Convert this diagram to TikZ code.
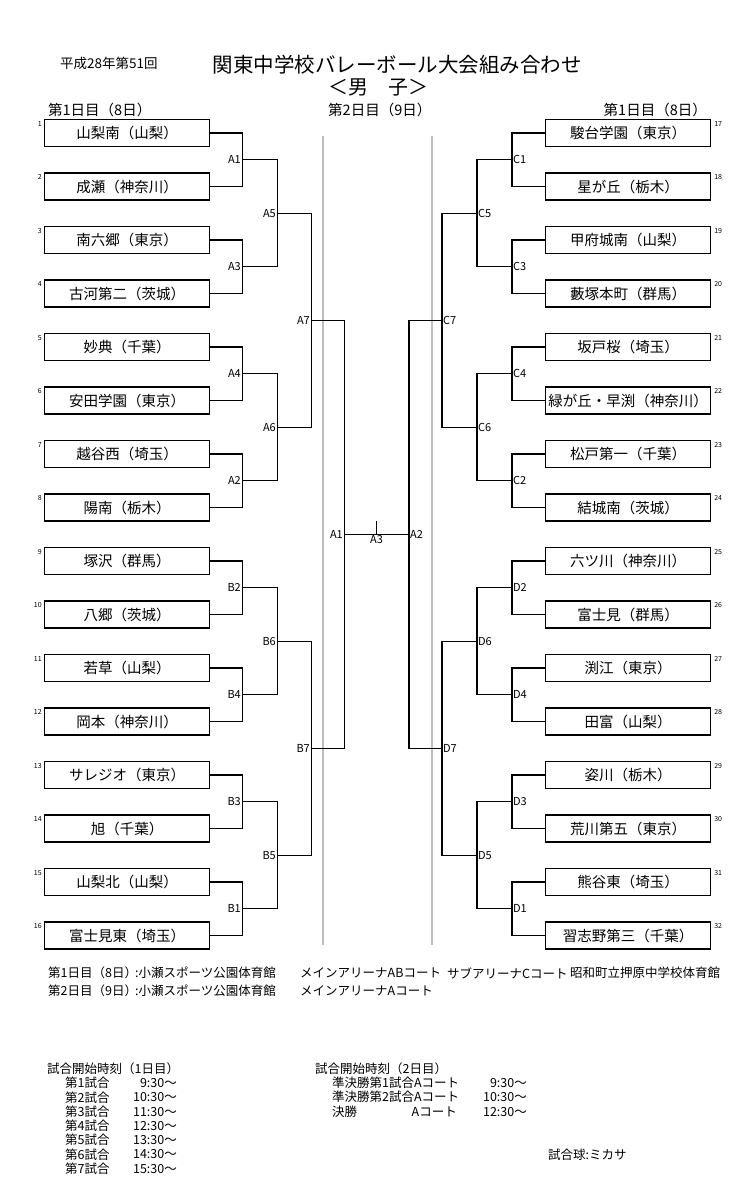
\documentclass[tikz,border=0pt]{standalone}
\usepackage{fontspec}
\setmainfont{Noto Sans CJK JP}
\usetikzlibrary{positioning,calc}

\begin{document}
\begin{tikzpicture}[x=1pt, y=-1pt, font=\fontsize{14.5}{15}\selectfont,
  team/.style={draw=black, line width=1.1pt, minimum width=165pt, minimum height=27pt, inner sep=0pt},
  num/.style={font=\fontsize{7}{7}\selectfont, inner sep=0pt},
  mlbl/.style={font=\fontsize{11}{11}\selectfont, inner sep=1pt},
  br/.style={draw=black, line width=1.1pt},
  court/.style={draw=black!25, line width=1.2pt},
  head/.style={font=\fontsize{14.5}{15}\selectfont, inner sep=0pt},
  note/.style={font=\fontsize{12.5}{13}\selectfont, anchor=west, inner sep=0pt}]
\useasboundingbox (0,0) rectangle (741,1200);
% header
\node[note, font=\fontsize{13.5}{14}\selectfont] (edition) at (60,63) {平成28年第51回};
\node[font=\fontsize{20.5}{21}\selectfont, inner sep=0pt] (title) at (397,65) {関東中学校バレーボール大会組み合わせ};
\node[font=\fontsize{20}{20}\selectfont, inner sep=0pt] (sex) at (378,87) {＜男　子＞};
\node[head, anchor=west] (day1l) at (48,110) {第1日目（8日）};
\node[head, anchor=west] (day2) at (328,110) {第2日目（9日）};
\node[head, anchor=east] (day1r) at (707,110) {第1日目（8日）};
% court lines
\draw[court] (323,136) -- (323,945);
\draw[court] (432,136) -- (432,945);
% teams
\foreach \n/\t in {1/山梨南（山梨）, 2/成瀬（神奈川）, 3/南六郷（東京）, 4/古河第二（茨城）,
  5/妙典（千葉）, 6/安田学園（東京）, 7/越谷西（埼玉）, 8/陽南（栃木）,
  9/塚沢（群馬）, 10/八郷（茨城）, 11/若草（山梨）, 12/岡本（神奈川）,
  13/サレジオ（東京）, 14/旭（千葉）, 15/山梨北（山梨）, 16/富士見東（埼玉）} {
  \node[team] (L\n) at (127,{133+(\n-1)*53.5}) {\t};
  \node[num, anchor=north east] at ([xshift=-2pt,yshift=-2pt]L\n.north west) {\n};
}
\foreach \n/\t in {17/駿台学園（東京）, 18/星が丘（栃木）, 19/甲府城南（山梨）, 20/藪塚本町（群馬）,
  21/坂戸桜（埼玉）, 22/緑が丘・早渕（神奈川）, 23/松戸第一（千葉）, 24/結城南（茨城）,
  25/六ツ川（神奈川）, 26/富士見（群馬）, 27/渕江（東京）, 28/田富（山梨）,
  29/姿川（栃木）, 30/荒川第五（東京）, 31/熊谷東（埼玉）, 32/習志野第三（千葉）} {
  \node[team] (R\n) at (628,{133+(\n-17)*53.5}) {\t};
  \node[num, anchor=north west] at ([xshift=3pt,yshift=-2pt]R\n.north east) {\n};
}
% first round
\foreach \a/\b/\m in {1/2/A1, 3/4/A3, 5/6/A4, 7/8/A2, 9/10/B2, 11/12/B4, 13/14/B3, 15/16/B1} {
  \coordinate[label={[mlbl]left:\m}] (\m) at ($(L\a.east)!.5!(L\b.east)+(32,0)$);
  \draw[br] (L\a.east) -| (\m) |- (L\b.east);
}
\foreach \a/\b/\m in {17/18/C1, 19/20/C3, 21/22/C4, 23/24/C2, 25/26/D2, 27/28/D4, 29/30/D3, 31/32/D1} {
  \coordinate[label={[mlbl]right:\m}] (\m) at ($(R\a.west)!.5!(R\b.west)+(-33,0)$);
  \draw[br] (R\a.west) -| (\m) |- (R\b.west);
}
% later rounds
\foreach \a/\b/\m/\dx in {A1/A3/A5/35, A4/A2/A6/35, B2/B4/B6/35, B3/B1/B5/35, A5/A6/A7/34, B6/B5/B7/34} {
  \coordinate[label={[mlbl]left:\m}] (\m) at ($(\a)!.5!(\b)+(\dx,0)$);
  \draw[br] (\a) -| (\m) |- (\b);
}
\foreach \a/\b/\m/\dx in {C1/C3/C5/35, C4/C2/C6/35, D2/D4/D6/35, D3/D1/D5/35, C5/C6/C7/35, D6/D5/D7/35} {
  \coordinate[label={[mlbl]right:\m}] (\m) at ($(\a)!.5!(\b)+(-\dx,0)$);
  \draw[br] (\a) -| (\m) |- (\b);
}
% semifinals and final
\coordinate[label={[mlbl]left:A1}] (fA1) at ($(A7)!.5!(B7)+(33,0)$);
\coordinate[label={[mlbl]right:A2}] (fA2) at ($(C7)!.5!(D7)+(-33,0)$);
\draw[br] (A7) -| (fA1) |- (B7);
\draw[br] (C7) -| (fA2) |- (D7);
\draw[br] (fA1) -- (fA2);
\coordinate[label={[mlbl]below:A3}] (fA3) at ($(fA1)!.5!(fA2)$);
\coordinate (win) at ($(fA3)+(0,-13)$);
\draw[br] (fA3) -- (win);
% venues
\node[note] (v1) at (48,973) {第1日目（8日）};
\node[note] (v1a) at (135,973) {:小瀬スポーツ公園体育館};
\node[note] (v1b) at (300,973) {メインアリーナABコート};
\node[note] (v1c) at (447,973) {サブアリーナCコート};
\node[note] (v1d) at (570,973) {昭和町立押原中学校体育館};
\node[note] (v2) at (48,991) {第2日目（9日）};
\node[note] (v2a) at (135,991) {:小瀬スポーツ公園体育館};
\node[note] (v2b) at (300,991) {メインアリーナAコート};
% times day 1
\node[note] (t1) at (47,1069) {試合開始時刻（1日目）};
\foreach \i/\h in {1/9, 2/10, 3/11, 4/12, 5/13, 6/14, 7/15} {
  \node[note] (g\i) at (65,{1083+(\i-1)*14.3}) {第\i 試合};
  \node[note, anchor=east] (h\i) at (177,{1083+(\i-1)*14.3}) {\h:30〜};
}
% times day 2
\node[note] (t2) at (315,1069) {試合開始時刻（2日目）};
\node[note] (s1) at (332,1083) {準決勝第1試合Aコート};
\node[note, anchor=east] (s1t) at (527,1083) {9:30〜};
\node[note] (s2) at (332,1097) {準決勝第2試合Aコート};
\node[note, anchor=east] (s2t) at (527,1097) {10:30〜};
\node[note] (fin) at (332,1112) {決勝};
\node[note, anchor=east] (finc) at (457,1112) {Aコート};
\node[note, anchor=east] (fint) at (527,1112) {12:30〜};
\node[note] (ball) at (548,1155) {試合球:ミカサ};
\end{tikzpicture}
\end{document}
